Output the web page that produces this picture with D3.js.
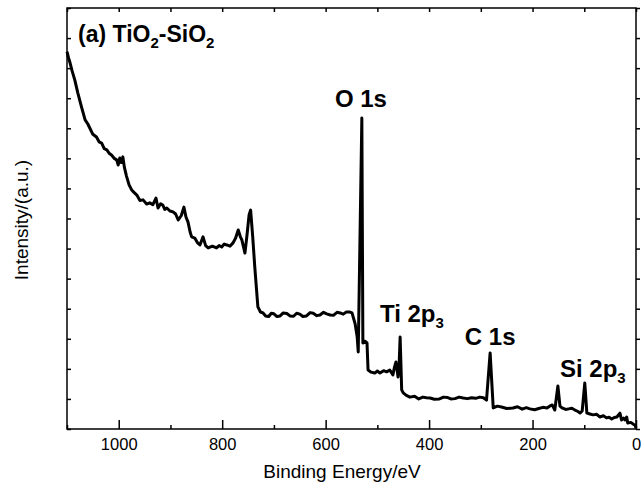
<!DOCTYPE html>
<html>
<head>
<meta charset="utf-8">
<script src="https://d3js.org/d3.v7.min.js"></script>
<style>
    body { margin: 0; background: #fff; }
    text { font-family: "Liberation Sans", Arial, sans-serif; fill: #000; }
    .axis path { display: none; }
    .axis line { stroke: #000; stroke-width: 1.5; }
</style>
</head>
<body>
<div class="chart"></div>
<script>
    // survey spectrum
    let energy = [1100, 1097, 1094, 1090, 1085, 1079, 1072, 1065, 1060, 1056, 1050, 1043, 1038, 1033, 1028, 1023, 1018,
        1014, 1008, 1004, 1001, 998, 995, 992, 989, 985, 980, 975, 970, 965, 959, 953, 946, 940, 934, 928, 924, 919, 915,
        911, 907, 901, 895, 890, 885, 879, 874, 870, 866, 862, 859, 853, 848, 843, 837, 832, 827, 819, 811, 806,
        801, 796, 791, 785, 779, 774, 769, 765, 762, 756, 752, 748, 745, 741, 737, 731, 726, 721, 716, 710, 705, 700,
        694, 688, 682, 675, 669, 662, 656, 650, 644, 637, 630, 624, 617, 611, 604, 598, 591, 585, 578, 572, 566, 560,
        553, 549, 543, 539, 537, 530, 528, 524, 520, 518, 512, 505, 500, 495, 488, 482, 476, 470,
        467, 464, 460, 458, 456, 453, 450, 444, 437, 428, 420, 412, 405, 398, 390, 380, 372, 365, 358, 350, 342, 334,
        326, 318, 310, 302, 295, 289, 282, 276, 268, 260, 250, 238, 229, 220, 212, 205, 196, 188, 180, 172, 167, 162,
        157, 151, 147, 143, 136, 130, 124, 118, 113, 108, 104, 99, 95, 89, 83, 76, 70, 63, 57, 52, 47, 42, 37, 31, 28,
        24, 21, 18, 16, 10, 5, 2, 0];
    let intensity = [125.5, 123.4, 121.7, 119.0, 116.1, 111.7, 107.1, 102.8, 101.5, 100.1, 98.0, 97.1, 95.5, 95.1, 93.2,
        92.8, 91.6, 91.1, 89.9, 89.5, 87.8, 90.1, 88.6, 90.5, 87.0, 84.1, 81.2, 79.5, 78.6, 77.8, 76.0, 76.2, 74.8,
        75.2, 74.6, 76.8, 73.5, 74.9, 74.5, 73.0, 73.5, 72.5, 72.2, 71.5, 69.5, 71.0, 73.8, 70.5, 68.8, 65.5,
        63.9, 63.5, 62.0, 61.2, 63.9, 61.0, 60.2, 60.8, 60.2, 61.0, 60.5, 61.5, 61.2, 60.8, 61.9, 63.5, 66.2, 64.0,
        62.9, 58.5, 64.5, 71.2, 72.8, 64, 53.9, 40.6, 38.9, 38.6, 37.6, 37.4, 38.5, 38.3, 37.4, 37.6, 38.6, 38.4,
        37.6, 37.5, 38.5, 38.2, 37.4, 37.6, 38.7, 38.5, 37.7, 37.9, 38.8, 38.3, 37.9, 37.8, 38.8, 38.6, 38.2, 38.9,
        38.9, 38.6, 35, 30.6, 25.6, 103.4, 28.6, 29.2, 28.6, 19.6, 18.9, 18.6, 19.3, 18.6, 19.4, 19.0, 19.6, 18.0,
        20.5, 22.3, 17.3, 21.0, 30.6, 13.0, 12.0, 11.2, 10.6, 10.9, 10.0, 10.6, 10.4, 10.3, 9.9, 10.0, 10.6, 10.5,
        10.0, 10.1, 10.6, 10.3, 10.1, 10.4, 10.2, 10.6, 10.4, 9.6, 25.3, 7.0, 7.6, 7.3, 6.8, 7.0, 7.4, 6.6, 7.1, 6.7,
        6.4, 6.8, 7.2, 7.0, 7.6, 8.0, 6.3, 14.3, 7.6, 7.0, 6.5, 6.7, 6.9, 6.3, 5.9, 5.3, 6.0, 15.3, 5.3, 5.0, 4.7,
        4.9, 4.0, 4.4, 3.7, 3.9, 3.3, 3.8, 4.0, 5.3, 3.0, 3.6, 3.0, 4.0, 2.0, 2.2, 1.6, 1.3, 0.3];

    let xTicks = [1000, 800, 600, 400, 200, 0];
    let xMinor = [1100, 900, 700, 500, 300, 100];
    let yTicks = [0, 10, 20, 30, 40, 50, 60, 70, 80, 90, 100, 110, 120, 130, 140];

    let peakNames = ["O 1s", "Ti 2p", "C 1s", "Si 2p"];
    let peakSubs = ["", "3", "", "3"];
    let peakE = [582, 495, 331, 147];
    let peakI = [107, 35.6, 27.9, 17.3];

    let width = 644, height = 498;
    let plotLeft = 67, plotRight = 636, plotTop = 8, plotBottom = 429;

    let svg = d3.select(".chart")
        .append("svg")
        .attr("width", width)
        .attr("height", height);

    let x = d3.scaleLinear().domain([1100, 0]).range([plotLeft, plotRight]);
    let y = d3.scaleLinear().domain([0, 140]).range([plotBottom, plotTop]);

    // bottom axis
    svg.append("g")
        .attr("class", "axis")
        .attr("transform", "translate(0," + plotBottom + ")")
        .call(d3.axisBottom(x).tickValues(xTicks).tickFormat(d3.format("d"))
            .tickSizeInner(-9).tickSizeOuter(0).tickPadding(9))
        .selectAll("text")
        .style("font-size", "16.5px");

    svg.append("g")
        .attr("class", "axis")
        .attr("transform", "translate(0," + plotBottom + ")")
        .call(d3.axisBottom(x).tickValues(xMinor).tickSize(-4).tickFormat(""));

    // top axis
    svg.append("g")
        .attr("class", "axis")
        .attr("transform", "translate(0," + plotTop + ")")
        .call(d3.axisTop(x).tickValues(xTicks.concat(xMinor)).tickSize(-4).tickFormat(""));

    // left and right axes, no labels
    svg.append("g")
        .attr("class", "axis")
        .attr("transform", "translate(" + plotLeft + ",0)")
        .call(d3.axisLeft(y).tickValues(yTicks).tickSize(-4).tickFormat(""));

    svg.append("g")
        .attr("class", "axis")
        .attr("transform", "translate(" + plotRight + ",0)")
        .call(d3.axisRight(y).tickValues(yTicks).tickSize(4).tickFormat(""));

    svg.append("rect")
        .attr("x", plotLeft)
        .attr("y", plotTop)
        .attr("width", plotRight - plotLeft)
        .attr("height", plotBottom - plotTop)
        .style("fill", "none")
        .style("stroke", "#000")
        .style("stroke-width", 1.5);

    let line = d3.line()
        .x(function (d, i) { return x(energy[i]); })
        .y(function (d) { return y(d); });

    svg.append("path")
        .datum(intensity)
        .attr("d", line)
        .style("fill", "none")
        .style("stroke", "#000")
        .style("stroke-width", 3)
        .style("stroke-linejoin", "round");

    // peak labels
    peakNames.forEach(function (name, i) {
        let t = svg.append("text")
            .attr("x", x(peakE[i]))
            .attr("y", y(peakI[i]))
            .style("font-size", "24px")
            .style("font-weight", "bold")
            .text(name);
        if (peakSubs[i]) {
            t.append("tspan")
                .attr("dy", 6)
                .style("font-size", "15px")
                .text(peakSubs[i]);
        }
    });

    // panel title
    let title = svg.append("text")
        .attr("x", 78)
        .attr("y", 42)
        .style("font-size", "23px")
        .style("font-weight", "bold")
        .text("(a) TiO");
    title.append("tspan").attr("dy", 6).style("font-size", "15px").text("2");
    title.append("tspan").attr("dy", -6).text("-SiO");
    title.append("tspan").attr("dy", 6).style("font-size", "15px").text("2");

    // axis titles
    svg.append("text")
        .attr("x", 342)
        .attr("y", 478)
        .style("text-anchor", "middle")
        .style("font-size", "19px")
        .text("Binding Energy/eV");

    svg.append("text")
        .attr("transform", "rotate(-90)")
        .attr("x", -220)
        .attr("y", 28)
        .style("text-anchor", "middle")
        .style("font-size", "19px")
        .text("Intensity/(a.u.)");
</script>
</body>
</html>
